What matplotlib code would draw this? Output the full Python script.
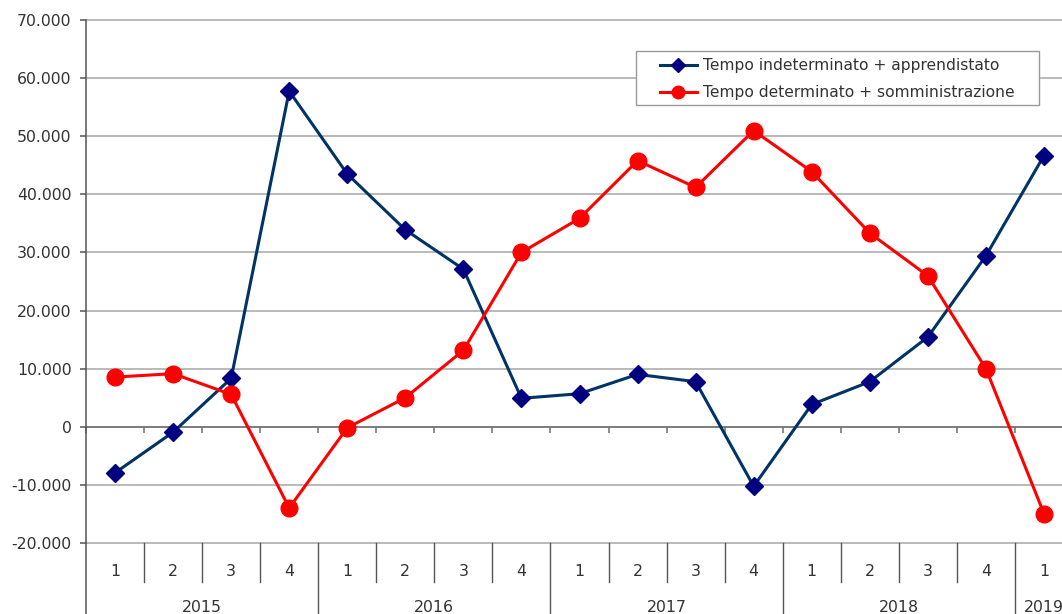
import matplotlib
matplotlib.use("Agg")
import matplotlib.pyplot as plt
from matplotlib.markers import TICKDOWN
from matplotlib.patches import Rectangle

# Quarterly net change in employment contracts
years = ["2015", "2016", "2017", "2018", "2019"]
quarters_per_year = [4, 4, 4, 4, 1]
quarter_labels = ["1", "2", "3", "4"] * 4 + ["1"]

indeterminato = [-7930, -930, 8330, 57760, 43500, 33900, 27120, 4900,
                 5690, 9020, 7760, -10240, 3840, 7760, 15450, 29420, 46660]
determinato = [8550, 9140, 5570, -13970, -170, 5000, 13160, 30000,
               35860, 45790, 41200, 50970, 43900, 33330, 25970, 10000, -14950]

series_names = ["Tempo indeterminato + apprendistato",
                "Tempo determinato + somministrazione"]

y_ticks = list(range(-20000, 70001, 10000))

TEXT = "#333333"
AXIS = "#555555"
GRID = "#a6a6a6"
FS = 11.3

plt.rcParams["font.family"] = ["DejaVu Sans"]

W, H = 1062, 614
fig = plt.figure(figsize=(W / 100, H / 100), dpi=100)

left_px, right_px, top_px, bottom_px = 86, 1073, 20, 543
ax = fig.add_axes([left_px / W, 1 - bottom_px / H,
                   (right_px - left_px) / W, (bottom_px - top_px) / H])

n = len(quarter_labels)
x = list(range(1, n + 1))

ax.set_xlim(0.5, n + 0.5)
ax.set_ylim(y_ticks[0], y_ticks[-1])

# horizontal gridlines
for v in y_ticks:
    ax.axhline(v, color=GRID, lw=1.1, zorder=0, clip_on=False)

# value axis line at zero with category ticks
ax.axhline(0, color="#6e6e6e", lw=1.1, zorder=1)
bounds = [b + 0.5 for b in range(0, n + 1)]
ax.plot(bounds, [0] * len(bounds), ls="none", marker=TICKDOWN,
        markersize=4.5, markeredgecolor="#6e6e6e", markeredgewidth=1.1,
        zorder=1, clip_on=False)

ax.plot(x, indeterminato, color="#003366", lw=2.2, marker="D",
        markersize=9.6, markerfacecolor="#000080", markeredgecolor="#000080",
        label=series_names[0], zorder=3)
ax.plot(x, determinato, color="#ff0000", lw=2.2, marker="o",
        markersize=12, markerfacecolor="#ff0000", markeredgecolor="#ff0000",
        label=series_names[1], zorder=3)

# y axis
for s in ["top", "right", "bottom"]:
    ax.spines[s].set_visible(False)
ax.spines["left"].set_color(AXIS)
ax.spines["left"].set_linewidth(1.1)
ax.set_yticks(y_ticks)
ax.set_yticklabels([f"{v:,}".replace(",", ".") for v in y_ticks])
ax.tick_params(axis="y", direction="out", length=4.5, width=1.1,
               color=AXIS, labelcolor=TEXT, labelsize=FS, pad=6)
ax.set_xticks([])

# two-level category axis below the plot area
tr = ax.get_xaxis_transform()
plot_h = bottom_px - top_px
q_line = -(582 - bottom_px) / plot_h
y_line = -(H - bottom_px + 2) / plot_h
q_text = -(571 - bottom_px) / plot_h
y_text = -(607 - bottom_px) / plot_h

ax.plot([0.5, 0.5], [y_line, 0], transform=tr, color=AXIS, lw=1.1,
        clip_on=False)

year_starts = []
pos = 1
for count in quarters_per_year:
    year_starts.append(pos)
    pos += count

for b in bounds[1:]:
    is_year = any(abs(b - (s - 0.5)) < 1e-9 for s in year_starts) or b == n + 0.5
    ax.plot([b, b], [y_line if is_year else q_line, 0], transform=tr,
            color=AXIS, lw=1.0, clip_on=False)

for xi, lab in zip(x, quarter_labels):
    ax.text(xi, q_text, lab, transform=tr, ha="center", va="center",
            fontsize=FS, color=TEXT, clip_on=False)

for yr, start, count in zip(years, year_starts, quarters_per_year):
    center = start + (count - 1) / 2
    ax.text(center, y_text, yr, transform=tr, ha="center", va="center",
            fontsize=FS, color=TEXT, clip_on=False)

# legend box and entries
box = Rectangle((636 / W, 1 - 105 / H), (1039 - 636) / W, (105 - 51) / H,
                transform=fig.transFigure, facecolor="white",
                edgecolor="#999999", lw=1.0, zorder=4)
fig.add_artist(box)

leg = fig.legend(loc="upper left",
                 bbox_to_anchor=(660 / W, 1 - 58 / H),
                 frameon=False, fontsize=11.2, labelcolor=TEXT,
                 handlelength=2.35, handletextpad=0.4, borderpad=0,
                 labelspacing=0.8, borderaxespad=0)
leg.set_zorder(5)
for h in leg.legend_handles:
    h.set_markersize(h.get_markersize() * 0.75)

fig.savefig("out.png", dpi=100)
